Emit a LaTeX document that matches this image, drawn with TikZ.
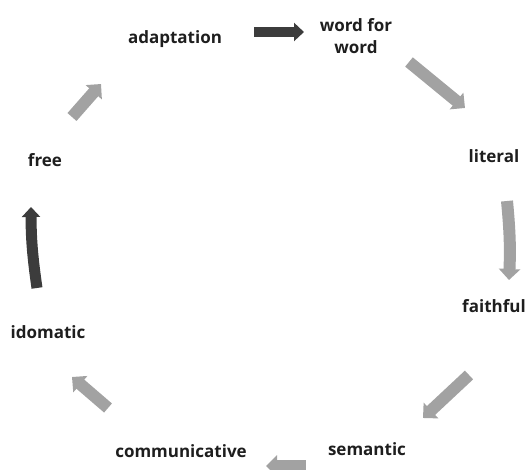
\documentclass[tikz,border=0pt]{standalone}
\usepackage{fontspec}
\setmainfont{Open Sans}
\usetikzlibrary{arrows.meta}
\definecolor{txt}{HTML}{1E1E1E}
\definecolor{lightarr}{HTML}{A2A2A2}
\definecolor{darkarr}{HTML}{3C3C3C}
\begin{document}
\begin{tikzpicture}[x=1pt,y=-1pt,
  lbl/.style={text=txt,font=\fontsize{17}{20}\selectfont\bfseries,inner sep=0pt,align=center},
  garrow/.style={draw=lightarr,line width=12pt,-{Triangle[width=21pt,length=11pt]}},
  darrow/.style={draw=darkarr,line width=10pt,-{Triangle[width=18pt,length=10pt]}}]
\useasboundingbox (0,0) rectangle (531,470);
\clip (0,0) rectangle (531,470);
\node[lbl] (adapt) at (175,39) {adaptation};
\node[lbl] (wfw) at (356,36) {word for\\[2pt]word};
\node[lbl] (lit) at (494,156) {literal};
\node[lbl] (faith) at (494,306) {faithful};
\node[lbl] (sem) at (367,449) {semantic};
\node[lbl] (comm) at (181,451) {communicative};
\node[lbl] (idom) at (48,332) {idomatic};
\node[lbl] (free) at (45,160) {free};
% arrow coordinates
\coordinate (a1s) at (254,32);  \coordinate (a1e) at (304,32);
\coordinate (a2s) at (409,62);  \coordinate (a2e) at (465,108);
\coordinate (a3s) at (507,201); \coordinate (a3e) at (509,280);
\coordinate (a4s) at (469,375); \coordinate (a4e) at (423,418);
\coordinate (a5s) at (306,466); \coordinate (a5e) at (266,466);
\coordinate (a6s) at (108,408); \coordinate (a6e) at (72,377);
\coordinate (a7s) at (37,288);  \coordinate (a7e) at (31,207);
\coordinate (a8s) at (72,117);  \coordinate (a8e) at (101,84);
\draw[darrow] (a1s) -- (a1e);
\draw[garrow] (a2s) -- (a2e);
\draw[garrow] (a3s) to[bend left=4] (a3e);
\draw[garrow] (a4s) -- (a4e);
\draw[garrow] (a5s) -- (a5e);
\draw[garrow] (a6s) -- (a6e);
\draw[darrow,line width=11pt] (a7s) to[bend left=4] (a7e);
\draw[garrow] (a8s) -- (a8e);
\end{tikzpicture}
\end{document}
